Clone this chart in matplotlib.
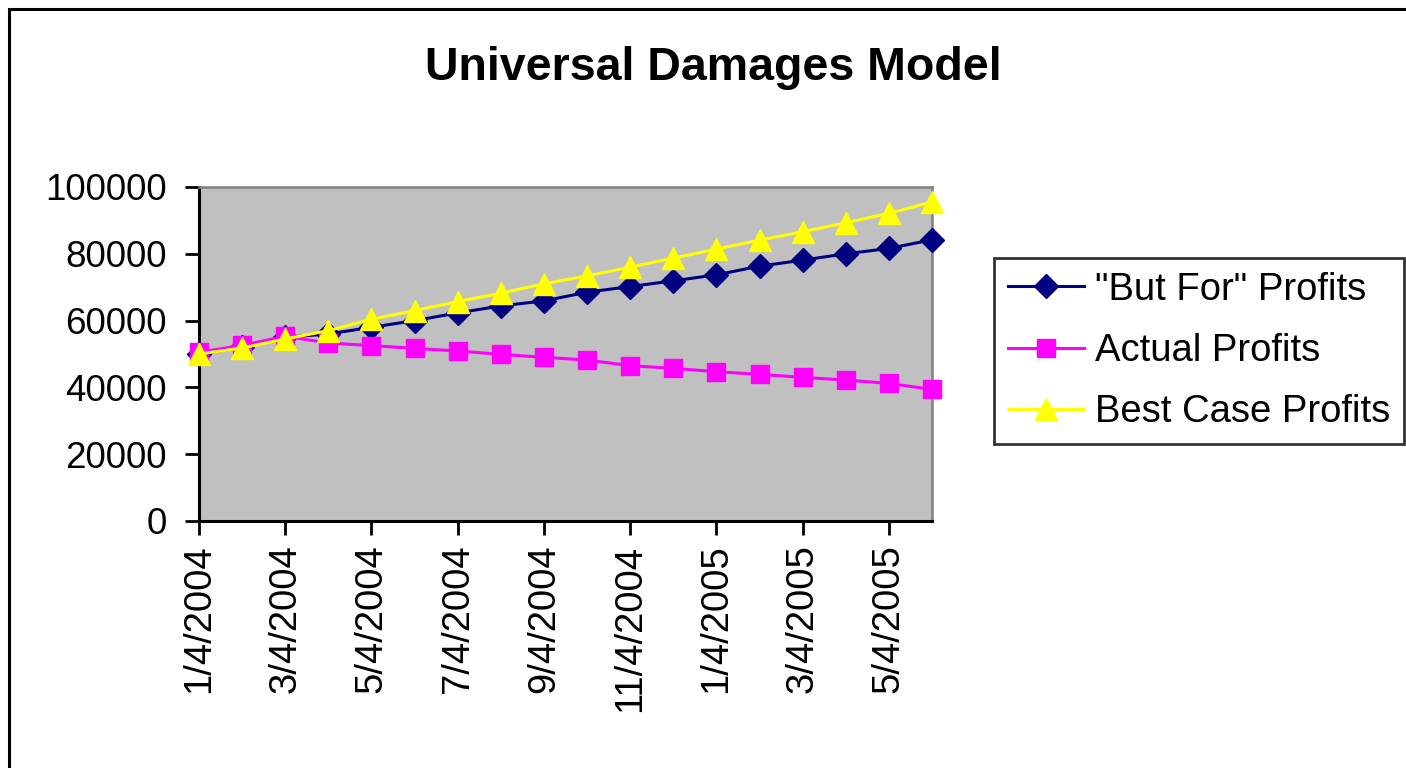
"""
Universal Damages Model - recreación de la gráfica de Excel
"""

import matplotlib
matplotlib.use('Agg')
import matplotlib.pyplot as plt
from matplotlib.patches import Rectangle

# Datos
fechas = ['1/4/2004', '2/4/2004', '3/4/2004', '4/4/2004', '5/4/2004', '6/4/2004',
          '7/4/2004', '8/4/2004', '9/4/2004', '10/4/2004', '11/4/2004', '12/4/2004',
          '1/4/2005', '2/4/2005', '3/4/2005', '4/4/2005', '5/4/2005', '6/4/2005']
but_for = [50000, 52000, 55000, 56000, 58000, 60000, 62300, 64400, 65900,
           68500, 70200, 71900, 73700, 76300, 78100, 80000, 81600, 84200]
actual = [50500, 52600, 55300, 53300, 52500, 51700, 50900, 49900, 49000,
          48200, 46500, 45700, 44700, 43900, 43000, 42200, 41200, 39400]
best_case = [50000, 51800, 54500, 57000, 60400, 63000, 65700, 68200, 71000,
             73400, 76000, 78700, 81400, 84100, 86600, 89300, 92100, 95500]
yticks = [0, 20000, 40000, 60000, 80000, 100000]

plt.rcParams['font.family'] = ['Liberation Sans', 'DejaVu Sans']

fig = plt.figure(figsize=(14.06, 7.68), dpi=100)
fig.patch.set_facecolor('white')

# Marco exterior del gráfico
fig.add_artist(Rectangle((9 / 1406, -0.2), 2.0, 1.2 - 9 / 768,
                         transform=fig.transFigure, fill=False,
                         edgecolor='black', linewidth=2.2))

ax = fig.add_axes([199 / 1406, 1 - 521 / 768, 733 / 1406, 334 / 768])
ax.set_facecolor('#C0C0C0')

x = list(range(len(fechas)))
ax.plot(x, but_for, color='#000080', linewidth=2.2, marker='D', markersize=12,
        label='"But For" Profits', clip_on=False, zorder=3)
ax.plot(x, actual, color='#FF00FF', linewidth=2.2, marker='s', markersize=13,
        label='Actual Profits', clip_on=False, zorder=4)
ax.plot(x, best_case, color='#FFFF00', linewidth=2.2, marker='^', markersize=16,
        label='Best Case Profits', clip_on=False, zorder=5)

ax.set_xlim(0, len(fechas) - 1)
ax.set_ylim(0, 100000)
ax.set_yticks(yticks)
ax.set_yticklabels([str(v) for v in yticks], fontsize=26.5)
ax.set_xticks(x[::2])
ax.set_xticklabels(fechas[::2], rotation=90, fontsize=27.5)

ax.tick_params(axis='both', direction='out', length=10, width=2, colors='black')
ax.tick_params(axis='y', pad=13)
ax.tick_params(axis='x', pad=7)

for lado in ['left', 'bottom']:
    ax.spines[lado].set_color('black')
    ax.spines[lado].set_linewidth(2.2)
for lado in ['top', 'right']:
    ax.spines[lado].set_color('#808080')
    ax.spines[lado].set_linewidth(1.8)

fig.text(713 / 1406, 1 - 68 / 768, 'Universal Damages Model', ha='center',
         va='center', fontsize=33.5, fontweight='bold')

leg = fig.legend(loc='center left', bbox_to_anchor=(994 / 1406, 1 - 351 / 768),
                 fontsize=27.5, frameon=True, fancybox=False, edgecolor='black',
                 borderpad=0.36, labelspacing=0.66, handlelength=2.0,
                 handletextpad=0.28, borderaxespad=0)
leg.get_frame().set_linewidth(2)

plt.savefig('out.png', dpi=100)
